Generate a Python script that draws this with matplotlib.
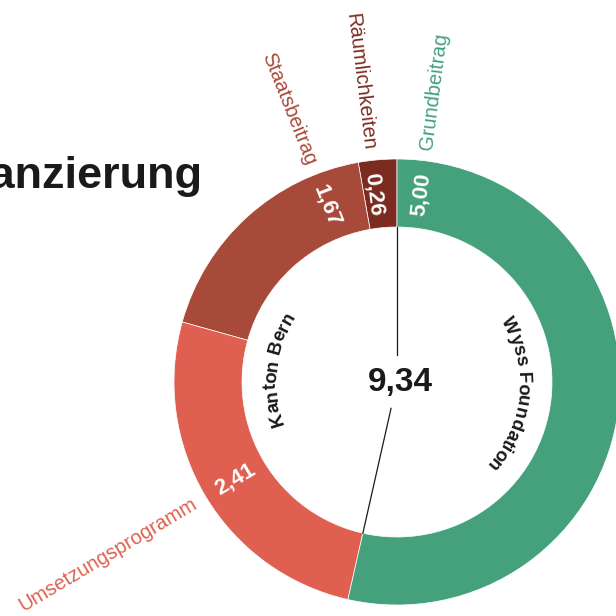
#!/usr/bin/env python
# -*- coding: utf-8 -*-

import numpy as np
import matplotlib as mpl
mpl.use('Agg')
from matplotlib import pyplot as plt
from matplotlib.font_manager import FontProperties, findfont
from matplotlib.ft2font import FT2Font

# Daten (Reihenfolge: ab 12 Uhr gegen den Uhrzeigersinn)
categories   = ['Räumlichkeiten', 'Staatsbeitrag', 'Umsetzungsprogramm', 'Grundbeitrag']
values       = [0.26, 1.67, 2.41, 5.00]
value_labels = ['0,26', '1,67', '2,41', '5,00']
groups       = ['Kanton Bern', 'Wyss Foundation']
group_index  = [0, 0, 0, 1]
title        = 'Finanzierung'

# Aussehen
colors    = ['#7B2B1F', '#A84A3A', '#DF6050', '#45A07C']
label_pos = [0.7, 0.18, 0.50, 0.962]   # Position der Beschriftung im Segment (0..1)
FONT = 'Liberation Sans'
DPI = 100
CX, CY = 397, 382        # Mittelpunkt in Pixel
R_OUT, R_IN = 223, 155


def upright(rot):
    # Text nicht auf den Kopf stellen
    rot = (rot + 180) % 360 - 180
    if rot > 90:
        return rot - 180, True
    if rot < -90:
        return rot + 180, True
    return rot, False


def char_advances(text, size, weight):
    fp = FontProperties(family=FONT, weight=weight)
    font = FT2Font(findfont(fp))
    font.set_size(size, DPI)
    adv = []
    for ch in text:
        g = font.load_char(ord(ch))
        adv.append(g.linearHoriAdvance / 65536)
    return np.array(adv)


def curved_text(ax, text, theta_c, r, size):
    # Text entlang eines Kreises, im Uhrzeigersinn, Oberkante nach aussen
    adv = char_advances(text, size, 'bold')
    L = adv.sum()
    start = np.deg2rad(theta_c) + L / 2 / r
    pos = np.cumsum(adv) - adv / 2
    for ch, s in zip(text, pos):
        th = start - s / r
        ax.text(r * np.cos(th), r * np.sin(th), ch, fontsize=size,
                fontweight='bold', family=FONT, color='#1a1a1a',
                rotation=np.rad2deg(th) - 90, rotation_mode='anchor',
                ha='center', va='baseline')


def plot(save='out.png'):
    fig = plt.figure(figsize=(616 / DPI, 616 / DPI), dpi=DPI)
    ax = fig.add_axes([0, 0, 1, 1])

    total = sum(values)
    ax.pie(values, colors=colors, startangle=90, counterclock=True,
           radius=R_OUT, center=(0, 0),
           wedgeprops=dict(width=R_OUT - R_IN, edgecolor='white', linewidth=0.5))

    # Winkel der Segmente
    angles = 90 + 360 * np.concatenate([[0], np.cumsum(values)]) / total

    r_mid = (R_OUT + R_IN) / 2
    for i in range(len(values)):
        th = angles[i] + label_pos[i] * (angles[i + 1] - angles[i])
        t = np.deg2rad(th)
        rot, flipped = upright(th)
        # Wert im Ring
        ax.text(r_mid * np.cos(t), r_mid * np.sin(t), value_labels[i],
                fontsize=16, fontweight='bold', family=FONT, color='white',
                rotation=rot, rotation_mode='anchor', ha='center', va='center')
        # Kategorie ausserhalb
        r_lab = R_OUT + 11
        ax.text(r_lab * np.cos(t), r_lab * np.sin(t), categories[i],
                fontsize=14.5, family=FONT, color=colors[i],
                rotation=rot, rotation_mode='anchor',
                ha='right' if flipped else 'left', va='center')

    # Trennlinien zwischen den Geldgebern
    kanton = sum(v for v, g in zip(values, group_index) if g == 0)
    for th in [90, 90 + 360 * kanton / total]:
        t = np.deg2rad(th)
        ax.plot([R_IN * np.cos(t), 27 * np.cos(t)],
                [R_IN * np.sin(t), 27 * np.sin(t)], color='#1a1a1a', lw=0.9)

    # Gruppennamen innen, gebogen
    for gi, name in enumerate(groups):
        idx = [i for i, g in enumerate(group_index) if g == gi]
        a0 = angles[min(idx)]
        a1 = angles[max(idx) + 1]
        curved_text(ax, name, (a0 + a1) / 2, 121, 13.5)

    # Summe in der Mitte
    ax.text(3, -9, '{:.2f}'.format(total).replace('.', ','), fontsize=24,
            fontweight='bold', family=FONT, color='#1a1a1a',
            ha='center', va='baseline')

    # Titel (links abgeschnitten wie im Original)
    ax.text(202 - CX, CY - 188, title, fontsize=32.5, fontweight='bold',
            family=FONT, color='#1a1a1a', ha='right', va='baseline')

    ax.set_xlim(-CX, 616 - CX)
    ax.set_ylim(CY - 616, CY)
    ax.set_aspect('equal')
    ax.axis('off')

    plt.savefig(save, dpi=DPI)


if __name__ == '__main__':
    plot('out.png')
